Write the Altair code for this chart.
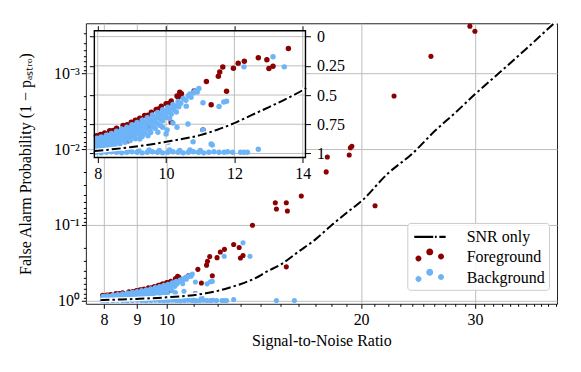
import json
import altair as alt
import pandas as pd

FONT = "Liberation Serif"
RED = "#8b0000"
BLUE = "#6cb4f7"
GRID = "#bdbdbd"

# ---------------- data ----------------
# Foreground (dark red)
fg_snr = [7.96, 8.08, 8.2, 8.35, 8.55, 8.74, 8.98, 9.1, 9.23, 9.37, 9.57, 9.71, 9.86, 10.0, 10.15, 10.35, 10.45,
          8.14, 8.45, 8.86, 9.17, 9.47, 9.78, 10.08, 10.4,
          10.32, 10.4, 10.82, 11.18, 11.53, 11.57, 11.66, 11.97, 12.11, 12.29, 12.70, 12.95, 13.01, 13.13, 13.58,
          11.77, 11.32, 10.15, 9.52, 8.89, 11.08,
          14.73, 14.79, 15.32, 15.38, 16.16, 17.66, 17.73, 19.17, 19.25, 19.35, 21.02, 22.49, 25.65, 29.47, 30.0,
          15.32]
fg_fap = [0.848, 0.838, 0.825, 0.805, 0.784, 0.761, 0.733, 0.715, 0.698, 0.675, 0.647, 0.624, 0.595, 0.575, 0.552,
          0.517, 0.489,
          0.842, 0.803, 0.755, 0.715, 0.672, 0.62, 0.573, 0.51,
          0.509, 0.475, 0.465, 0.385, 0.339, 0.302, 0.261, 0.270, 0.227, 0.210, 0.181, 0.198, 0.273, 0.253, 0.101,
          0.468, 0.583, 0.733, 0.761, 0.891, 0.80,
          0.051, 0.0616, 0.051, 0.0655, 0.0415, 0.020, 0.0127, 0.012, 0.0096, 0.0092, 0.056, 0.0020, 0.0006,
          0.00024, 0.00028,
          0.357]

# Background (light blue): upper cloud rows
bg_row1_snr = [7.97, 8.1, 8.25, 8.4, 8.55, 8.7, 8.85, 9.0, 9.15, 9.3, 9.45, 9.6, 9.75, 9.9, 10.05, 10.2, 10.35,
               10.5, 10.65, 10.8]
bg_row1_fap = [0.87, 0.86, 0.845, 0.83, 0.81, 0.79, 0.775, 0.755, 0.735, 0.715, 0.695, 0.67, 0.65, 0.625, 0.605,
               0.58, 0.555, 0.53, 0.505, 0.48]
bg_row1b_snr = [8.03, 8.18, 8.33, 8.48, 8.63, 8.78, 8.93, 9.08, 9.23, 9.38, 9.53, 9.68, 9.83, 9.98, 10.13, 10.28,
                10.43, 10.58, 10.73]
bg_row1b_fap = [0.885, 0.87, 0.855, 0.84, 0.825, 0.805, 0.79, 0.77, 0.75, 0.73, 0.71, 0.69, 0.665, 0.64, 0.62,
                0.595, 0.57, 0.545, 0.52]
bg_row2_snr = [7.97, 8.12, 8.27, 8.42, 8.57, 8.72, 8.87, 9.02, 9.17, 9.32, 9.47, 9.62, 9.77, 9.92, 10.07, 10.22,
               10.37]
bg_row2_fap = [0.905, 0.895, 0.88, 0.865, 0.85, 0.835, 0.815, 0.8, 0.78, 0.76, 0.74, 0.72, 0.695, 0.67, 0.65,
               0.625, 0.6]
bg_row2b_snr = [8.05, 8.2, 8.35, 8.5, 8.65, 8.8, 8.95, 9.1, 9.25, 9.4, 9.55, 9.7, 9.85, 10.0, 10.15, 10.3]
bg_row2b_fap = [0.92, 0.91, 0.895, 0.88, 0.865, 0.85, 0.83, 0.815, 0.795, 0.775, 0.755, 0.735, 0.71, 0.69, 0.665,
                0.645]
bg_row3_snr = [7.97, 8.1, 8.25, 8.4, 8.55, 8.7, 8.85, 9.0, 9.15, 9.3, 9.45, 9.6, 9.75, 9.9, 10.1]
bg_row3_fap = [0.94, 0.93, 0.92, 0.905, 0.89, 0.875, 0.86, 0.845, 0.825, 0.81, 0.79, 0.77, 0.745, 0.72, 0.7]
bg_row3b_snr = [8.03, 8.18, 8.33, 8.48, 8.63, 8.78, 8.93, 9.08, 9.23, 9.38, 9.53, 9.68, 9.83]
bg_row3b_fap = [0.95, 0.94, 0.93, 0.92, 0.905, 0.89, 0.875, 0.86, 0.84, 0.825, 0.805, 0.785, 0.76]
bg_row4_snr = [8.05, 8.2, 8.35, 8.5, 8.65, 8.8, 8.95, 9.1, 9.3, 9.55, 9.9, 10.2]
bg_row4_fap = [0.955, 0.95, 0.94, 0.93, 0.92, 0.905, 0.89, 0.875, 0.855, 0.82, 0.775, 0.74]
# Background: band near FAP = 1
bg_band_snr = [7.95, 8.1, 8.25, 8.4, 8.55, 8.7, 8.85, 9.0, 9.15, 9.3, 9.45, 9.6, 9.75, 9.9, 10.05, 10.2, 10.35,
               10.5, 10.65, 10.8, 10.95, 11.1, 11.25, 11.4, 11.55, 11.7, 11.8, 11.95, 12.18, 12.28, 12.38,
               8.0, 8.3, 8.6, 8.9, 9.2, 9.5, 9.8, 10.1, 10.4, 10.7, 11.0]
bg_band_fap = [0.99, 0.995, 0.99, 0.985, 0.99, 0.995, 0.99, 0.985, 0.99, 0.995, 0.99, 0.985, 0.99, 0.995, 0.99,
               0.985, 0.99, 0.995, 0.99, 0.985, 0.99, 0.995, 0.99, 0.985, 0.99, 0.99, 0.985, 0.99, 0.99, 0.99, 0.99,
               0.975, 0.975, 0.975, 0.97, 0.975, 0.97, 0.975, 0.97, 0.975, 0.97, 0.975]
# Background: scattered points
bg_sc_snr = [10.96, 10.91, 12.28, 13.13, 13.46, 10.59, 11.08, 11.55, 11.69, 11.77, 11.08, 10.64, 10.32, 10.03,
             9.76, 9.47, 9.23, 10.06, 10.0, 9.81, 10.79, 11.32, 11.35, 12.70, 14.79, 15.77, 10.7, 10.85]
bg_sc_fap = [0.445, 0.474, 0.259, 0.172, 0.259, 0.595, 0.566, 0.598, 0.56, 0.554, 0.80, 0.747, 0.776, 0.80,
             0.819, 0.848, 0.877, 0.905, 0.834, 0.69, 0.90, 0.92, 0.928, 0.964, 0.99, 0.99, 0.49, 0.465]

# "SNR only" curve
line_snr = [7.9, 8.0, 8.5, 9.0, 9.5, 10.0, 10.5, 11.0, 11.5, 12.0, 12.5, 13.0, 13.5, 14.0, 14.1, 15, 16, 17, 18,
            19, 20, 22, 24, 26, 28, 30, 33, 36, 40]
line_fap = [0.98, 0.977, 0.962, 0.945, 0.925, 0.9, 0.875, 0.843, 0.797, 0.74, 0.672, 0.605, 0.535, 0.458, 0.44,
            0.335, 0.225, 0.155, 0.101, 0.069, 0.049, 0.021, 0.0115, 0.0058, 0.0033, 0.0019, 0.00093, 0.00048,
            0.00021]

legend_names = ["SNR only", "Foreground", "Background"]
legend_colors = ["black", RED, BLUE]

# axes / ticks
main_x_domain = [7.5, 40.2]
main_y_domain = [0.00022, 1.095]
main_x_labeled = [8, 9, 10, 20, 30]
main_x_minor = [11, 12, 13, 14, 15, 16, 17, 18, 19, 21, 22, 23, 24, 25, 26, 27, 28, 29,
                31, 32, 33, 34, 35, 36, 37, 38, 39, 40]
main_y_major = [1, 0.1, 0.01, 0.001]
main_y_labels = ["10⁰", "10⁻¹", "10⁻²", "10⁻³"]
main_y_minor = [0.9, 0.8, 0.7, 0.6, 0.5, 0.4, 0.3, 0.2,
                0.09, 0.08, 0.07, 0.06, 0.05, 0.04, 0.03, 0.02,
                0.009, 0.008, 0.007, 0.006, 0.005, 0.004, 0.003, 0.002,
                0.0009, 0.0008, 0.0007, 0.0006, 0.0005, 0.0004, 0.0003]
inset_x_domain = [7.9, 14.08]
inset_y_domain = [-0.05, 1.035]
inset_x_ticks = [8, 10, 12, 14]
inset_y_ticks = [0, 0.25, 0.5, 0.75, 1]

# ---------------- tables ----------------
fg = pd.DataFrame({"snr": fg_snr, "fap": fg_fap})
bg = pd.DataFrame({
    "snr": bg_row1_snr + bg_row1b_snr + bg_row2_snr + bg_row2b_snr + bg_row3_snr + bg_row3b_snr + bg_row4_snr
           + bg_band_snr + bg_sc_snr,
    "fap": bg_row1_fap + bg_row1b_fap + bg_row2_fap + bg_row2b_fap + bg_row3_fap + bg_row3b_fap + bg_row4_fap
           + bg_band_fap + bg_sc_fap,
})
line = pd.DataFrame({"snr": line_snr, "fap": line_fap})
leg = pd.DataFrame({"series": legend_names})
frame = pd.DataFrame({"x0": [inset_x_domain[0]], "x1": [inset_x_domain[1]],
                      "y0": [inset_y_domain[0]], "y1": [inset_y_domain[1]]})
ixg = pd.DataFrame({"t": inset_x_ticks, "y0": inset_y_domain[0], "y1": inset_y_domain[1]})
iyg = pd.DataFrame({"t": inset_y_ticks, "x0": inset_x_domain[0], "x1": inset_x_domain[1]})

# ---------------- main panel ----------------
x_test = f"indexof({json.dumps(main_x_labeled)}, datum.value) >= 0"
y_test = f"indexof({json.dumps(main_y_major)}, datum.value) >= 0"
y_label_expr = " : ".join(f"datum.value == {v} ? '{l}'" for v, l in zip(main_y_major, main_y_labels)) + " : ''"

main_x_axis = alt.Axis(
    values=main_x_labeled + main_x_minor,
    labelExpr=f"{x_test} ? '' + datum.value : ''",
    tickSize={"condition": {"test": x_test, "value": 4.5}, "value": 2.5},
    gridOpacity={"condition": {"test": x_test, "value": 1}, "value": 0},
    grid=True, labelOverlap=False, labelFlush=False, labelPadding=3,
    titleY=37, titleBaseline="middle",
)
main_y_axis = alt.Axis(
    values=main_y_major + main_y_minor,
    labelExpr=y_label_expr,
    tickSize={"condition": {"test": y_test, "value": 4.5}, "value": 2.5},
    gridOpacity={"condition": {"test": y_test, "value": 1}, "value": 0},
    grid=True, labelOverlap=False, labelFlush=False, labelPadding=2,
    titleX=-60, titleY=140.5, titleAngle=270, titleAlign="center", titleBaseline="middle",
)
mx = alt.X("snr:Q", scale=alt.Scale(type="log", domain=main_x_domain, nice=False),
           axis=main_x_axis, title="Signal-to-Noise Ratio")
my = alt.Y("fap:Q", scale=alt.Scale(type="log", domain=main_y_domain, reverse=True, nice=False),
           axis=main_y_axis, title="False Alarm Probability (1 − pₐₛₜᵣₒ)")

DASH = [9, 3, 2.5, 3]

m_fg = alt.Chart(fg).mark_circle(size=26, color=RED, opacity=1).encode(x=mx, y=my)
m_bg = alt.Chart(bg).mark_circle(size=26, color=BLUE, opacity=1).encode(x=mx, y=my)
m_halo = alt.Chart(line).mark_line(color="white", strokeWidth=4.5, interpolate="monotone").encode(x=mx, y=my)
m_line = alt.Chart(line).mark_line(color="black", strokeWidth=2, strokeDash=DASH,
                                   interpolate="monotone").encode(x=mx, y=my)


def circ(cx, cy, r):
    return f"M{cx - r},{cy} A{r},{r} 0 1,0 {cx + r},{cy} A{r},{r} 0 1,0 {cx - r},{cy} Z"


def bar(x0, x1, h=0.115):
    return f"M{x0},{-h} L{x1},{-h} L{x1},{h} L{x0},{h} Z"


dash_path = " ".join([bar(-1.55, 0.35), bar(0.52, 0.69), bar(0.96, 1.59)])
dots_path = " ".join([circ(-1.13, 0.12, 0.3), circ(0.0, -0.55, 0.35), circ(1.13, -0.08, 0.3)])
legend_shapes = [dash_path, dots_path, dots_path]

leg_props = dict(title=None, orient="none", legendX=322, legendY=200, padding=4,
                 symbolSize=400, symbolStrokeWidth=0, symbolOffset=8.5, labelOffset=27,
                 rowPadding=2.5, fillColor="rgba(255,255,255,0.85)", strokeColor="#cccccc",
                 cornerRadius=3, labelFont=FONT, labelFontSize=16, labelColor="black",
                 symbolOpacity=1)
m_leg = alt.Chart(leg).mark_point(filled=True, opacity=0, size=400).encode(
    x=alt.value(0), y=alt.value(0),
    color=alt.Color("series:N", scale=alt.Scale(domain=legend_names, range=legend_colors),
                    legend=alt.Legend(**leg_props)),
    shape=alt.Shape("series:N", scale=alt.Scale(domain=legend_names, range=legend_shapes),
                    legend=alt.Legend(**leg_props)),
)

main = alt.layer(m_fg, m_bg, m_halo, m_line, m_leg)

# ---------------- inset ----------------
ix_scale = alt.Scale(domain=inset_x_domain, range=[8.5, 220], nice=False, zero=False)
iy_scale = alt.Scale(domain=inset_y_domain, range=[7.5, 134.5], nice=False, zero=False)

ix_axis = alt.Axis(orient="bottom", offset=-146.5, values=inset_x_ticks, labelExpr="'' + datum.value",
                   tickSize=5, grid=False, domain=False, labelPadding=3, labelFlush=False,
                   labelOverlap=False, title=None)
iy_axis = alt.Axis(orient="right", offset=-252, values=inset_y_ticks, labelExpr="'' + datum.value",
                   tickSize=5, grid=False, domain=False, labelPadding=6, labelFlush=False,
                   labelOverlap=False, title=None)


def IX(f):
    return alt.X(f, scale=ix_scale, axis=ix_axis)


def IY(f):
    return alt.Y(f, scale=iy_scale, axis=iy_axis)


in_range = (alt.datum.snr >= inset_x_domain[0]) & (alt.datum.snr <= 14.1)

i_bgrect = alt.Chart(frame).mark_rect(color="white", opacity=1).encode(
    x=IX("x0:Q"), x2="x1:Q", y=IY("y0:Q"), y2="y1:Q")
i_gx = alt.Chart(ixg).mark_rule(color=GRID, strokeWidth=1).encode(x=IX("t:Q"), y=IY("y0:Q"), y2="y1:Q")
i_gy = alt.Chart(iyg).mark_rule(color=GRID, strokeWidth=1).encode(y=IY("t:Q"), x=IX("x0:Q"), x2="x1:Q")
i_fg = alt.Chart(fg).transform_filter(in_range).mark_circle(size=30, color=RED, opacity=1).encode(
    x=IX("snr:Q"), y=IY("fap:Q"))
i_bg = alt.Chart(bg).transform_filter(in_range).mark_circle(size=30, color=BLUE, opacity=1).encode(
    x=IX("snr:Q"), y=IY("fap:Q"))
i_halo = alt.Chart(line).transform_filter(in_range).mark_line(
    color="white", strokeWidth=4.5, interpolate="monotone").encode(x=IX("snr:Q"), y=IY("fap:Q"))
i_line = alt.Chart(line).transform_filter(in_range).mark_line(
    color="black", strokeWidth=2, strokeDash=DASH, interpolate="monotone").encode(x=IX("snr:Q"), y=IY("fap:Q"))

inset = alt.layer(i_bgrect, i_gx, i_gy, i_fg, i_bg, i_halo, i_line)

fx_axis = alt.Axis(orient="top", offset=-7.5, values=inset_x_ticks, labels=False, tickSize=5,
                   grid=False, domain=False, title=None)
fy_axis = alt.Axis(orient="left", offset=-8.5, values=inset_y_ticks, labels=False, tickSize=5,
                   grid=False, domain=False, title=None)
i_frame = alt.Chart(frame).mark_rect(fillOpacity=0, stroke="black", strokeWidth=1.4).encode(
    x=alt.X("x0:Q", scale=ix_scale, axis=fx_axis), x2="x1:Q",
    y=alt.Y("y0:Q", scale=iy_scale, axis=fy_axis), y2="y1:Q")

chart = (
    alt.layer(main, inset, i_frame)
    .resolve_scale(x="independent", y="independent")
    .properties(width=472, height=281, autosize=alt.AutoSizeParams(type="none"),
                padding={"left": 78, "top": 15, "right": 16, "bottom": 52})
    .configure_view(stroke="#222222", strokeWidth=1)
    .configure_axis(labelFont=FONT, titleFont=FONT, labelFontSize=16, titleFontSize=16,
                    labelColor="black", titleColor="black", tickColor="black", tickWidth=1,
                    gridColor=GRID, gridWidth=1, titleFontWeight="normal", domain=False)
)

chart.save("out.html", embed_options={"renderer": "svg", "actions": False})
